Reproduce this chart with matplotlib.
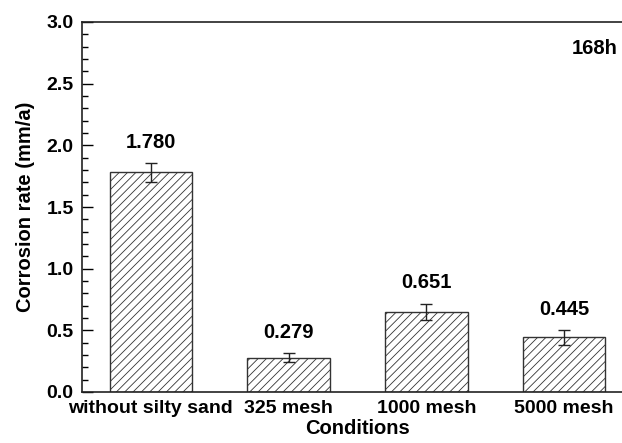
import matplotlib.pyplot as plt
import numpy as np
from matplotlib.ticker import MultipleLocator, FormatStrFormatter

plt.rcParams['font.family'] = ['Liberation Sans', 'DejaVu Sans']
plt.rcParams['font.weight'] = 'bold'
plt.rcParams['hatch.color'] = '#777777'
plt.rcParams['hatch.linewidth'] = 0.6

conditions = ['without silty sand', '325 mesh', '1000 mesh', '5000 mesh']
rates = [1.780, 0.279, 0.651, 0.445]
errors = [0.077, 0.038, 0.066, 0.060]

fig = plt.figure(figsize=(6.22, 4.43), dpi=100)
ax = fig.add_axes([82/622, 51/443, 551/622, 370/443])

x = np.arange(1, len(conditions) + 1)
ax.bar(x, rates, width=0.6, color='white', edgecolor='#333333', linewidth=1.0,
       hatch='////')
ax.errorbar(x, rates, yerr=errors, fmt='none', ecolor='#222222', elinewidth=1.0,
            capsize=4, capthick=1.0)

# value labels above the error bars
for xi, r, e in zip(x, rates, errors):
    ax.text(xi, r + e + 0.09, '%.3f' % r, ha='center', va='bottom',
            fontsize=14.5, fontweight='bold')

ax.text(0.972, 0.955, '168h', transform=ax.transAxes, ha='right', va='top',
        fontsize=14.5, fontweight='bold')

ax.set_xlim(0.5, 4.5)
ax.set_ylim(0, 3.0)
ax.set_xticks(x)
ax.set_xticklabels(conditions, fontsize=14, fontweight='bold')
ax.tick_params(axis='x', length=0, pad=6)
ax.yaxis.set_major_locator(MultipleLocator(0.5))
ax.yaxis.set_minor_locator(MultipleLocator(0.1))
ax.yaxis.set_major_formatter(FormatStrFormatter('%.1f'))
ax.tick_params(axis='y', which='major', direction='in', length=8, width=1,
               labelsize=14, pad=6)
ax.tick_params(axis='y', which='minor', direction='in', length=4, width=1)

for s in ax.spines.values():
    s.set_linewidth(1.2)
    s.set_color('#222222')

ax.set_xlabel('Conditions', fontsize=14.5, fontweight='bold', labelpad=1)
ax.set_ylabel('Corrosion rate (mm/a)', fontsize=14.5, fontweight='bold', labelpad=8)

fig.savefig('out.png', dpi=100)
